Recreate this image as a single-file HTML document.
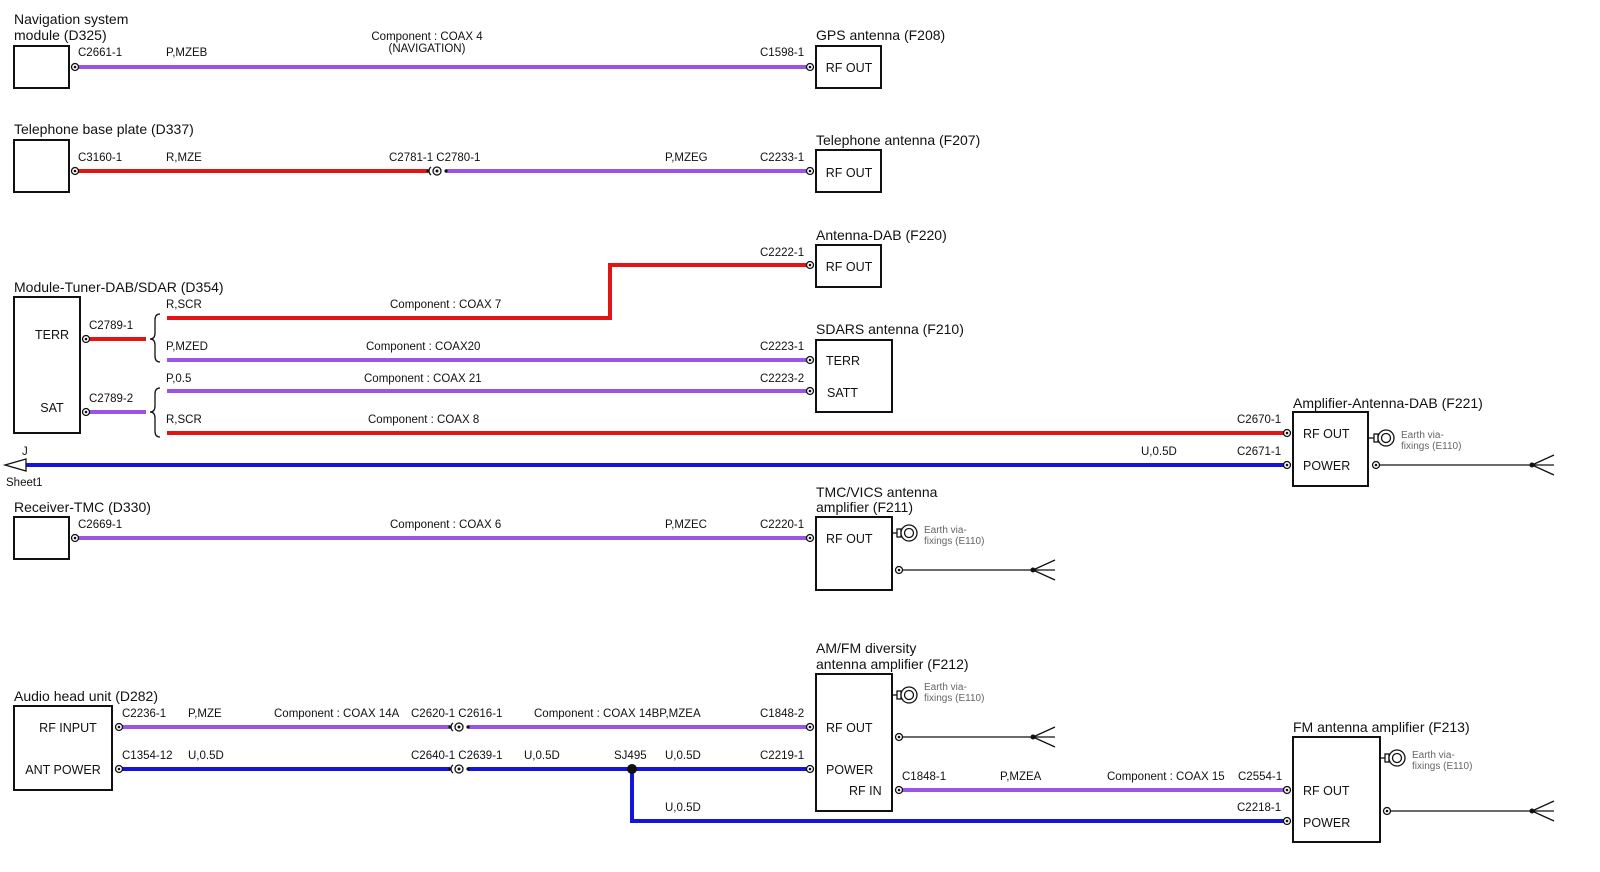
<!DOCTYPE html>
<html><head><meta charset="utf-8"><style>
html,body{margin:0;padding:0;background:#fff;}
svg{display:block;font-family:"Liberation Sans",Arial,sans-serif;}
.t{font-size:14px;fill:#111}
.s{font-size:11.5px;fill:#111}
.b{font-size:12.5px;fill:#111}
.e{font-size:10px;fill:#666}
.bx{fill:#fff;stroke:#111;stroke-width:2}
.p{stroke:#9b55e6;stroke-width:4;fill:none}
.r{stroke:#e31414;stroke-width:4;fill:none}
.u{stroke:#1414dc;stroke-width:4;fill:none}
.k{stroke:#111;stroke-width:1.3;fill:none}
.c{fill:#fff;stroke:#111;stroke-width:1.3}
</style></head><body>
<svg width="1600" height="872" viewBox="0 0 1600 872" xmlns="http://www.w3.org/2000/svg">
<defs>
<g id="cn"><circle r="3.5" class="c"/><circle r="1.3" fill="#111"/></g>
<g id="ea"><line x1="-18" y1="0" x2="-12" y2="0" class="k"/><rect x="-12" y="-4" width="4" height="8" class="c"/><circle r="8" class="c"/><circle r="4.5" class="c"/></g>
<g id="fk"><circle r="2.5" fill="#111"/><path d="M0 0 L22 -10 M0 0 L22 0 M0 0 L22 10" class="k"/></g>
<g id="jc"><path d="M-6 -4 A5 5 0 0 0 -6 4" class="k"/><circle r="4" class="c"/><circle r="1.5" fill="#111"/><circle cx="-9" r="1.6" fill="#111"/><circle cx="9" r="1.6" fill="#111"/></g>
</defs>

<!-- Navigation -->
<text x="14" y="24" class="t">Navigation system</text>
<text x="14" y="40" class="t">module (D325)</text>
<rect x="14" y="46" width="55" height="42" class="bx"/>
<line x1="77" y1="67" x2="808" y2="67" class="p"/>
<use href="#cn" x="75" y="67"/><use href="#cn" x="810" y="67"/>
<text x="78" y="56" class="s">C2661-1</text>
<text x="166" y="56" class="s">P,MZEB</text>
<text x="427" y="40" class="s" text-anchor="middle">Component : COAX 4</text>
<text x="427" y="52" class="s" text-anchor="middle">(NAVIGATION)</text>
<text x="760" y="56" class="s">C1598-1</text>
<text x="816" y="40" class="t">GPS antenna (F208)</text>
<rect x="816" y="46" width="65" height="42" class="bx"/>
<text x="849" y="72" class="b" text-anchor="middle">RF OUT</text>

<!-- Telephone -->
<text x="14" y="134" class="t">Telephone base plate (D337)</text>
<rect x="14" y="140" width="55" height="52" class="bx"/>
<line x1="77" y1="171" x2="428" y2="171" class="r"/>
<line x1="446" y1="171" x2="808" y2="171" class="p"/>
<use href="#cn" x="75" y="171"/><use href="#jc" x="437" y="171"/><use href="#cn" x="810" y="171"/>
<text x="78" y="161" class="s">C3160-1</text>
<text x="166" y="161" class="s">R,MZE</text>
<text x="389" y="161" class="s">C2781-1 C2780-1</text>
<text x="665" y="161" class="s">P,MZEG</text>
<text x="760" y="161" class="s">C2233-1</text>
<text x="816" y="145" class="t">Telephone antenna (F207)</text>
<rect x="816" y="150" width="65" height="42" class="bx"/>
<text x="849" y="177" class="b" text-anchor="middle">RF OUT</text>

<!-- DAB -->
<text x="816" y="240" class="t">Antenna-DAB (F220)</text>
<rect x="816" y="245" width="65" height="42" class="bx"/>
<text x="849" y="271" class="b" text-anchor="middle">RF OUT</text>
<text x="760" y="256" class="s">C2222-1</text>
<path d="M167 318 H610 V265 H808" class="r"/>
<use href="#cn" x="810" y="265"/>
<text x="166" y="308" class="s">R,SCR</text>
<text x="390" y="308" class="s">Component : COAX 7</text>

<!-- Module tuner -->
<text x="14" y="292" class="t">Module-Tuner-DAB/SDAR (D354)</text>
<rect x="14" y="297" width="66" height="136" class="bx"/>
<text x="52" y="339" class="b" text-anchor="middle">TERR</text>
<text x="52" y="412" class="b" text-anchor="middle">SAT</text>
<line x1="88" y1="339" x2="146" y2="339" class="r"/>
<line x1="88" y1="412" x2="146" y2="412" class="p"/>
<use href="#cn" x="86" y="339"/><use href="#cn" x="86" y="412"/>
<text x="89" y="329" class="s">C2789-1</text>
<text x="89" y="402" class="s">C2789-2</text>
<path d="M160 314 Q155 314 155 320 V333 Q155 339 150 339 Q155 339 155 345 V356 Q155 362 160 362" class="k"/>
<path d="M160 388 Q155 388 155 394 V406 Q155 412 150 412 Q155 412 155 418 V431 Q155 437 160 437" class="k"/>
<line x1="167" y1="360" x2="808" y2="360" class="p"/>
<line x1="167" y1="391" x2="808" y2="391" class="p"/>
<line x1="167" y1="433" x2="1285" y2="433" class="r"/>
<use href="#cn" x="810" y="360"/><use href="#cn" x="810" y="391"/><use href="#cn" x="1287" y="433"/>
<text x="166" y="350" class="s">P,MZED</text>
<text x="366" y="350" class="s">Component : COAX20</text>
<text x="760" y="350" class="s">C2223-1</text>
<text x="166" y="382" class="s">P,0.5</text>
<text x="364" y="382" class="s">Component : COAX 21</text>
<text x="760" y="382" class="s">C2223-2</text>
<text x="166" y="423" class="s">R,SCR</text>
<text x="368" y="423" class="s">Component : COAX 8</text>
<text x="1237" y="423" class="s">C2670-1</text>
<text x="816" y="334" class="t">SDARS antenna (F210)</text>
<rect x="816" y="340" width="76" height="72" class="bx"/>
<text x="826" y="365" class="b">TERR</text>
<text x="827" y="397" class="b">SATT</text>

<!-- Blue J -->
<line x1="25" y1="465" x2="1285" y2="465" class="u"/>
<path d="M26 459 L5 465 L26 471 Z" fill="#fff" stroke="#111" stroke-width="1.3"/>
<use href="#cn" x="1287" y="465"/>
<text x="22" y="455" class="s">J</text>
<text x="6" y="486" class="s">Sheet1</text>
<text x="1141" y="455" class="s">U,0.5D</text>
<text x="1237" y="455" class="s">C2671-1</text>
<text x="1293" y="408" class="t">Amplifier-Antenna-DAB (F221)</text>
<rect x="1293" y="412" width="75" height="74" class="bx"/>
<text x="1303" y="438" class="b">RF OUT</text>
<text x="1303" y="470" class="b">POWER</text>
<use href="#ea" x="1386" y="438"/>
<text x="1401" y="438" class="e">Earth via-</text>
<text x="1401" y="449" class="e">fixings (E110)</text>
<line x1="1378" y1="465" x2="1532" y2="465" class="k"/>
<use href="#cn" x="1376" y="465"/><use href="#fk" x="1532" y="465"/>

<!-- Receiver TMC -->
<text x="14" y="512" class="t">Receiver-TMC (D330)</text>
<rect x="14" y="517" width="55" height="42" class="bx"/>
<line x1="77" y1="538" x2="808" y2="538" class="p"/>
<use href="#cn" x="75" y="538"/><use href="#cn" x="810" y="538"/>
<text x="78" y="528" class="s">C2669-1</text>
<text x="390" y="528" class="s">Component : COAX 6</text>
<text x="665" y="528" class="s">P,MZEC</text>
<text x="760" y="528" class="s">C2220-1</text>
<text x="816" y="497" class="t">TMC/VICS antenna</text>
<text x="816" y="512" class="t">amplifier (F211)</text>
<rect x="816" y="517" width="76" height="73" class="bx"/>
<text x="826" y="543" class="b">RF OUT</text>
<use href="#ea" x="909" y="533"/>
<text x="924" y="533" class="e">Earth via-</text>
<text x="924" y="544" class="e">fixings (E110)</text>
<line x1="902" y1="570" x2="1033" y2="570" class="k"/>
<use href="#cn" x="899" y="570"/><use href="#fk" x="1033" y="570"/>

<!-- Audio head unit -->
<text x="14" y="701" class="t">Audio head unit (D282)</text>
<rect x="14" y="706" width="98" height="84" class="bx"/>
<text x="68" y="732" class="b" text-anchor="middle">RF INPUT</text>
<text x="63" y="774" class="b" text-anchor="middle">ANT POWER</text>
<line x1="121" y1="727" x2="450" y2="727" class="p"/>
<line x1="468" y1="727" x2="808" y2="727" class="p"/>
<line x1="121" y1="769" x2="450" y2="769" class="u"/>
<line x1="468" y1="769" x2="808" y2="769" class="u"/>
<path d="M632 769 V821 H1285" class="u"/>
<circle cx="632" cy="769" r="5" fill="#111"/>
<use href="#cn" x="119" y="727"/><use href="#cn" x="119" y="769"/>
<use href="#jc" x="459" y="727"/><use href="#jc" x="459" y="769"/>
<use href="#cn" x="810" y="727"/><use href="#cn" x="810" y="769"/><use href="#cn" x="1287" y="821"/>
<text x="122" y="717" class="s">C2236-1</text>
<text x="188" y="717" class="s">P,MZE</text>
<text x="274" y="717" class="s">Component : COAX 14A</text>
<text x="411" y="717" class="s">C2620-1 C2616-1</text>
<text x="534" y="717" class="s">Component : COAX 14BP,MZEA</text>
<text x="760" y="717" class="s">C1848-2</text>
<text x="122" y="759" class="s">C1354-12</text>
<text x="188" y="759" class="s">U,0.5D</text>
<text x="411" y="759" class="s">C2640-1 C2639-1</text>
<text x="524" y="759" class="s">U,0.5D</text>
<text x="614" y="759" class="s">SJ495</text>
<text x="665" y="759" class="s">U,0.5D</text>
<text x="760" y="759" class="s">C2219-1</text>
<text x="665" y="811" class="s">U,0.5D</text>
<text x="1237" y="811" class="s">C2218-1</text>

<text x="816" y="653" class="t">AM/FM diversity</text>
<text x="816" y="669" class="t">antenna amplifier (F212)</text>
<rect x="816" y="674" width="76" height="137" class="bx"/>
<text x="826" y="732" class="b">RF OUT</text>
<text x="826" y="774" class="b">POWER</text>
<text x="849" y="795" class="b">RF IN</text>
<use href="#ea" x="909" y="695"/>
<text x="924" y="690" class="e">Earth via-</text>
<text x="924" y="701" class="e">fixings (E110)</text>
<line x1="902" y1="737" x2="1033" y2="737" class="k"/>
<use href="#cn" x="899" y="737"/><use href="#fk" x="1033" y="737"/>
<line x1="902" y1="790" x2="1285" y2="790" class="p"/>
<use href="#cn" x="899" y="790"/><use href="#cn" x="1287" y="790"/>
<text x="902" y="780" class="s">C1848-1</text>
<text x="1000" y="780" class="s">P,MZEA</text>
<text x="1107" y="780" class="s">Component : COAX 15</text>
<text x="1238" y="780" class="s">C2554-1</text>

<text x="1293" y="732" class="t">FM antenna amplifier (F213)</text>
<rect x="1293" y="737" width="87" height="105" class="bx"/>
<text x="1303" y="795" class="b">RF OUT</text>
<text x="1303" y="827" class="b">POWER</text>
<use href="#ea" x="1397" y="758"/>
<text x="1412" y="758" class="e">Earth via-</text>
<text x="1412" y="769" class="e">fixings (E110)</text>
<line x1="1390" y1="811" x2="1532" y2="811" class="k"/>
<use href="#cn" x="1387" y="811"/><use href="#fk" x="1532" y="811"/>
</svg>
</body></html>
